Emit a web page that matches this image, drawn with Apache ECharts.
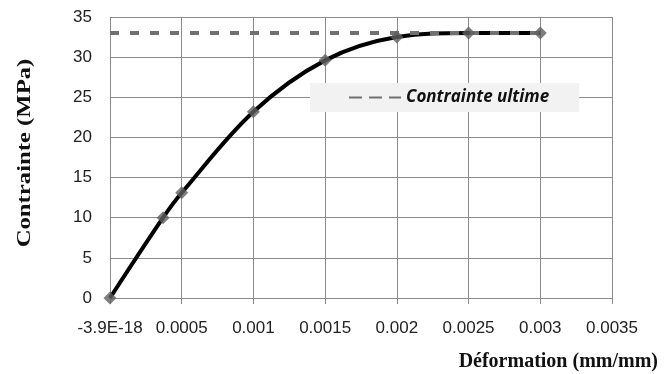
<!DOCTYPE html>
<html><head><meta charset="utf-8">
<script src="https://cdn.jsdelivr.net/npm/echarts@6/dist/echarts.min.js"></script>
<style>html,body{margin:0;padding:0;background:#fff}#c{width:667px;height:374px}</style>
</head><body><div id="c"></div>
<script>
var strain = [0, 0.00037, 0.0005, 0.001, 0.0015, 0.002, 0.0025, 0.003];
var stress = [0, 10, 13.1, 23.2, 29.6, 32.5, 33.0, 33.0];
var ultimateX = [0, 0.003];
var ultimateY = [33.0, 33.0];
var xTicks = {0: '-3.9E-18'};
var seriesName = 'Contrainte ultime';
var yTitle = 'Contrainte (MPa)';
var xTitle = 'Déformation (mm/mm)';

var curveData = strain.map(function (x, i) { return [x, stress[i]]; });

var chart = echarts.init(document.getElementById('c'));
chart.setOption({
  animation: false,
  backgroundColor: '#fff',
  grid: {left: 110, right: 55, top: 17, bottom: 76},
  xAxis: {
    type: 'value', min: 0, max: 0.0035, interval: 0.0005,
    axisLine: {show: true, lineStyle: {color: '#8c8c8c'}},
    axisTick: {show: true, length: 6, lineStyle: {color: '#8c8c8c'}},
    splitLine: {show: true, lineStyle: {color: '#8c8c8c', width: 1}},
    axisLabel: {
      margin: 22, color: '#222', fontFamily: 'Liberation Sans', fontSize: 17,
      formatter: function (v) { var k = parseFloat(v.toFixed(4)); return xTicks[k] !== undefined ? xTicks[k] : String(k); }
    }
  },
  yAxis: {
    type: 'value', min: 0, max: 35, interval: 5,
    axisLine: {show: false},
    axisTick: {show: false},
    splitLine: {show: true, lineStyle: {color: '#8c8c8c', width: 1}},
    axisLabel: {margin: 18, color: '#222', fontFamily: 'Liberation Sans', fontSize: 17}
  },
  legend: {
    show: true, data: [seriesName], left: 310, top: 83,
    backgroundColor: '#f2f2f2', padding: [6, 30, 6, 38],
    itemWidth: 52, itemHeight: 14, itemGap: 6,
    itemStyle: {opacity: 0},
    lineStyle: {type: [13, 7]},
    textStyle: {fontFamily: 'Open Sans', fontStyle: 'italic', fontWeight: 'bold', fontSize: 17, color: '#111'}
  },
  graphic: [{
    type: 'text', x: 25, y: 153, rotation: Math.PI / 2, scaleX: 1.3,
    style: {text: yTitle, font: 'bold 19px "Liberation Serif"', fill: '#111', align: 'center', verticalAlign: 'middle'}
  }, {
    type: 'text', x: 658, y: 362,
    style: {text: xTitle, font: 'bold 20px "Liberation Serif"', fill: '#111', align: 'right', verticalAlign: 'middle'}
  }],
  series: [{
    name: 'curve', type: 'line', data: curveData,
    smooth: 0.35, showSymbol: false, symbol: 'none',
    itemStyle: {color: '#000'}, lineStyle: {color: '#000', width: 4}, z: 2
  }, {
    name: seriesName, type: 'line', data: ultimateX.map(function (x, i) { return [x, ultimateY[i]]; }),
    symbol: 'none', itemStyle: {color: '#707070'},
    lineStyle: {color: '#707070', width: 4, type: [9, 11]}, z: 3
  }, {
    name: 'points', type: 'scatter', data: curveData,
    symbol: 'diamond', symbolSize: 13,
    itemStyle: {color: '#5f5f5f'}, z: 4
  }]
});
</script></body></html>
